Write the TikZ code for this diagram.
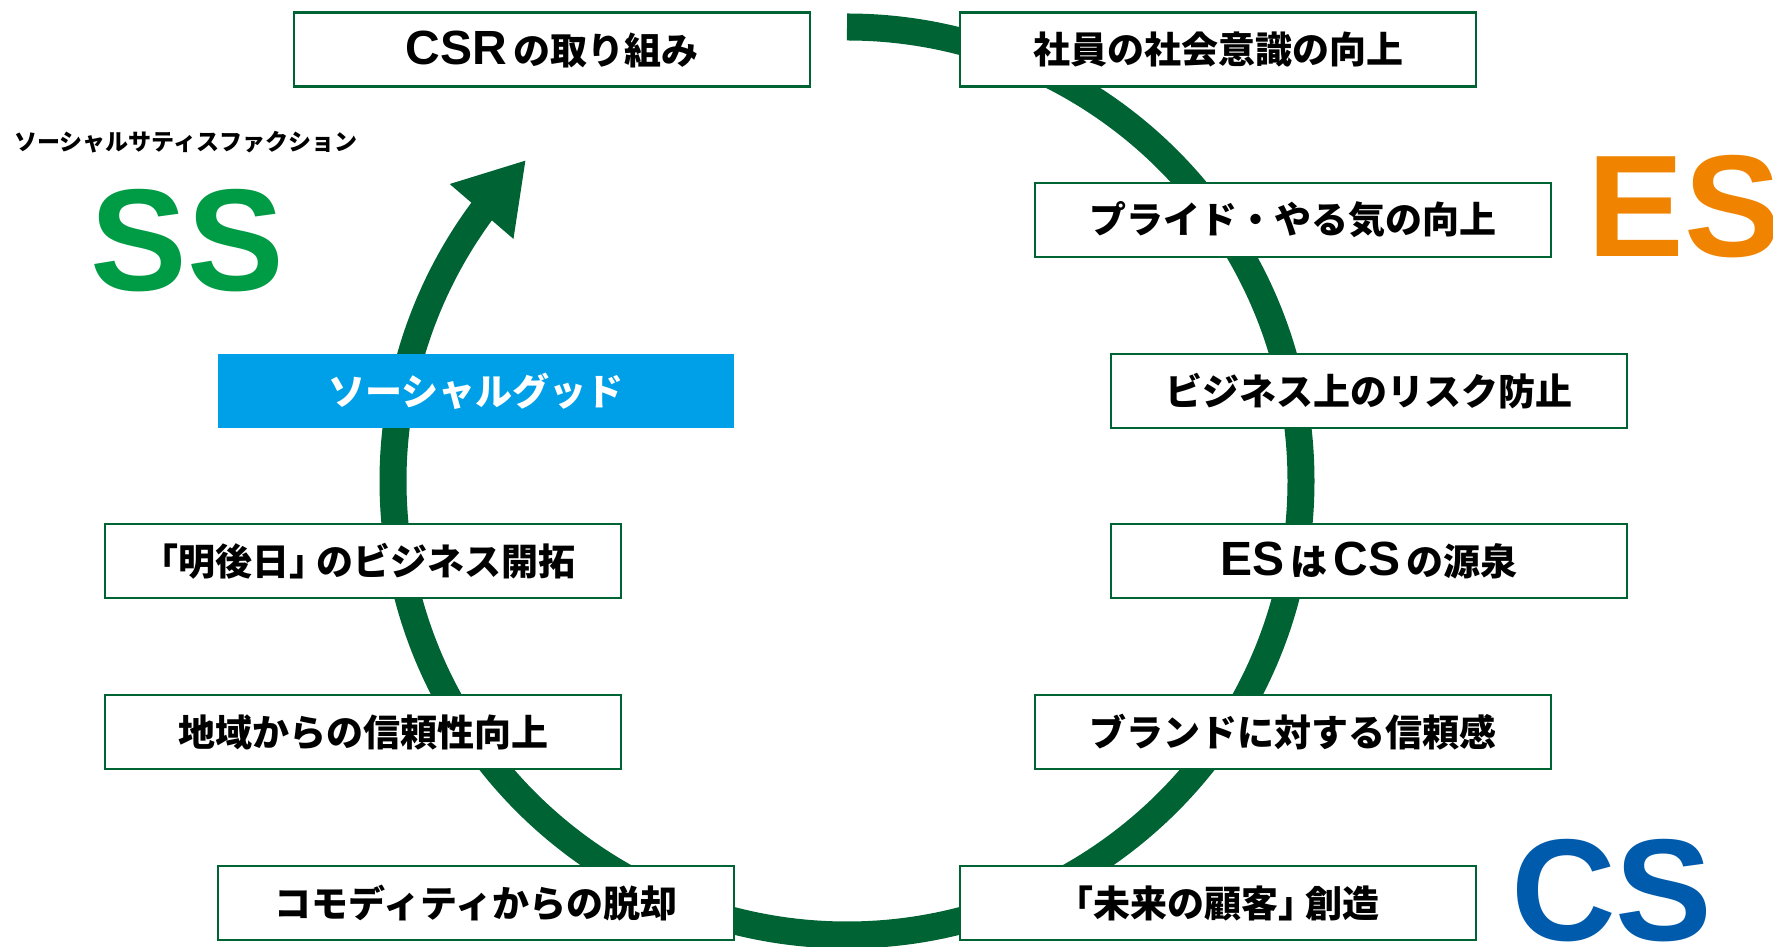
\documentclass[tikz,border=0pt]{standalone}
\usepackage{fontspec}
\usetikzlibrary{arrows.meta,bending}
\newfontfamily\jp{Noto Sans CJK JP}
\newfontfamily\lat{Liberation Sans}
\newcommand{\latw}[1]{{\lat\bfseries\fontsize{48pt}{50pt}\selectfont #1}}
\newcommand{\brk}{\kern-0.25em}
\definecolor{ringgreen}{RGB}{0,99,52}
\definecolor{ssgreen}{RGB}{0,155,69}
\definecolor{esorange}{RGB}{240,131,0}
\definecolor{csblue}{RGB}{0,91,172}
\definecolor{goodblue}{RGB}{0,160,233}
\begin{document}
\begin{tikzpicture}[x=1pt,y=1pt,
  itembox/.style={draw=ringgreen,line width=2.5pt,fill=white,minimum width=516pt,minimum height=74pt,inner sep=0pt,
    font=\jp\bfseries\fontsize{37pt}{40pt}\selectfont,text=black},
  goodbox/.style={fill=goodblue,minimum width=516pt,minimum height=74pt,inner sep=0pt,
    font=\jp\bfseries\fontsize{37pt}{40pt}\selectfont,text=white},
  bigletters/.style={inner sep=0pt,anchor=base,font=\lat\bfseries\fontsize{145pt}{150pt}\selectfont}]
\useasboundingbox (0,0) rectangle (1773,947);
% ring with arrow
\draw[ringgreen,line width=27pt,-{Triangle[width=79pt,length=68pt]}] (847,920) arc[start angle=90,end angle=-225,radius=454];
% boxes
\node[itembox] (csr) at (552,897.5) {\latw{CSR}\,の取り組み};
\node[itembox] (shain) at (1218,897.5) {社員の社会意識の向上};
\node[itembox] (pride) at (1293,727) {プライド・やる気の向上};
\node[itembox] (risk) at (1369,556) {ビジネス上のリスク防止};
\node[itembox] (gensen) at (1369,386) {\latw{ES}\,は\,\latw{CS}\,の源泉};
\node[itembox] (brand) at (1293,215) {ブランドに対する信頼感};
\node[itembox] (mirai) at (1218,44) {「未来の顧客」\brk 創造};
\node[itembox] (commo) at (476,44) {コモディティからの脱却};
\node[itembox] (chiiki) at (363,215) {地域からの信頼性向上};
\node[itembox] (asatte) at (363,386) {\brk「明後日」\brk のビジネス開拓};
\node[goodbox] (good) at (476,556) {ソーシャルグッド};
% labels
\node[inner sep=0pt,anchor=west,font=\jp\bfseries\fontsize{23pt}{26pt}\selectfont] (sslabel) at (14,805) {ソーシャルサティスファクション};
\node[bigletters,text=ssgreen] (ss) at (187.5,656) {SS};
\node[bigletters,text=esorange] (es) at (1684,690) {ES};
\node[bigletters,text=csblue] (cs) at (1612,6) {CS};
\end{tikzpicture}
\end{document}
